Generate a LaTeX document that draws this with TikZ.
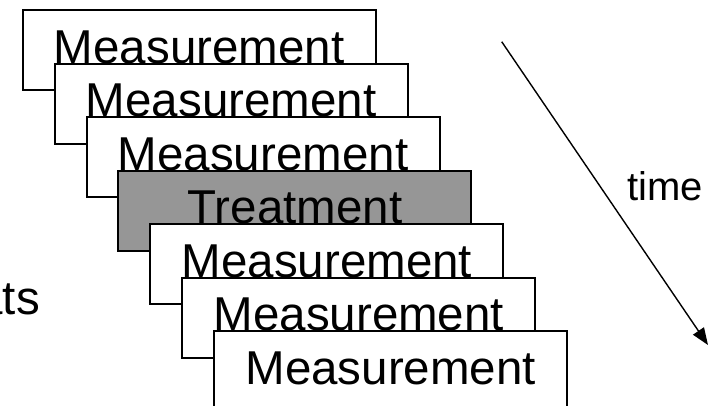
\documentclass[tikz,border=0pt]{standalone}
\usepackage{fontspec}
\setmainfont{Liberation Sans}
\usetikzlibrary{arrows.meta,calc}
\begin{document}
\begin{tikzpicture}[x=1pt,y=-1pt,
  stagebox/.style={draw=black,line width=2pt,fill=white,minimum width=353pt,minimum height=80pt,inner sep=0pt,anchor=north west},
  treatbox/.style={stagebox,fill=treatgray},
  lbl/.style={font=\fontsize{47.5}{52}\selectfont,inner sep=0pt,anchor=base},
  timearrow/.style={line width=1.4pt,-{Triangle[length=17pt,width=13pt]}}]
\definecolor{treatgray}{RGB}{150,150,150}
\useasboundingbox (0,0) rectangle (709,405);
\node[lbl,anchor=base east] (side) at (40,314) {ats};
\foreach \i/\s/\t in {0/stagebox/Measurement,1/stagebox/Measurement,2/stagebox/Measurement,3/treatbox/Treatment,4/stagebox/Measurement,5/stagebox/Measurement,6/stagebox/Measurement}{
  \node[\s] (b\i) at ({21.7+31.93*\i},{9+53.5*\i}) {};
  \node[lbl] (t\i) at ($(b\i.north)+(0,54)$) {\t};
}
\coordinate (a0) at (501.7,41.7);
\coordinate (a1) at (708,345);
\draw[timearrow] (a0) -- (a1);
\node[font=\fontsize{40}{44}\selectfont,inner sep=0pt,anchor=base west] (time) at (627,200) {time};
\end{tikzpicture}
\end{document}
